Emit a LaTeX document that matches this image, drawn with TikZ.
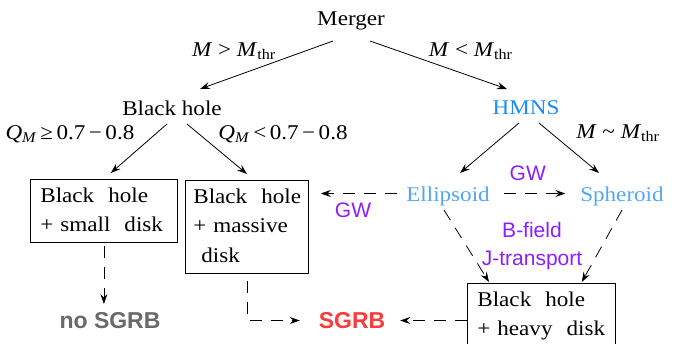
\documentclass[tikz,border=0pt]{standalone}
\usepackage{fontspec}
\setmainfont{Liberation Serif}[FakeStretch=1.1]
\setsansfont{Liberation Sans}
\usetikzlibrary{arrows.meta}
\definecolor{hmnsblue}{RGB}{26,140,255}
\definecolor{shapeblue}{RGB}{85,165,245}
\definecolor{gwpurple}{RGB}{140,30,255}
\definecolor{sgrbred}{RGB}{250,60,60}
\definecolor{nogray}{RGB}{105,105,105}
\newcommand\Mth{\textit{M}\textsubscript{thr}}
\newcommand\QM{\textit{Q}\textsubscript{\textit{M}}}

\begin{document}
\begin{tikzpicture}[x=1pt,y=-1pt,
   stage/.style={inner sep=0,outer sep=9pt,text height=15pt,text depth=0pt,
      anchor=base,font=\fontsize{21}{25}\selectfont},
   outcome/.style={draw,line width=0.8pt,anchor=north west,align=left,
      inner xsep=10pt,inner ysep=2pt,font=\fontsize{21}{29.5}\selectfont},
   grb/.style={stage,font=\fontsize{23}{27}\sffamily\bfseries},
   cond/.style={inner sep=1pt,font=\fontsize{21}{25}\selectfont},
   proc/.style={inner sep=1pt,text=gwpurple,font=\fontsize{21}{28}\sffamily},
   edge/.style={line width=0.8pt,-{Stealth[length=10pt,width=7pt,inset=3.5pt]}},
   weak edge/.style={edge,dash pattern=on 12pt off 9pt}]
\useasboundingbox (0,0) rectangle (684,343);

\node[stage] (merger) at (351,25) {Merger};
\node[stage] (bh) at (172,115) {Black hole};
\node[stage,text=hmnsblue] (hmns) at (526,114) {HMNS};
\node[stage,text=shapeblue] (ellipsoid) at (448,201) {Ellipsoid};
\node[stage,text=shapeblue] (spheroid) at (622,201) {Spheroid};
\node[outcome,text width=127pt] (smalldisk) at (30,179)
   {\strut Black~~hole\\+ small~~disk\strut};
\node[outcome,inner xsep=8pt,text width=107pt] (massivedisk) at (185,180)
   {\strut Black~~hole\\+ massive\\\hspace*{8pt}disk\strut};
\node[outcome,text width=128pt] (heavydisk) at (467,283)
   {\strut Black~~hole\\+ heavy~~disk\strut};
\node[grb,text=nogray] (nosgrb) at (110,328) {no SGRB};
\node[grb,text=sgrbred] (sgrb) at (352,328) {SGRB};
\node[proc,align=center] (bfield) at (532,246) {B-field\\J-transport};

\draw[edge] ([xshift=-18pt,yshift=-7pt]merger.south)
   -- node[cond,pos=0.42,anchor=south east] {\textit{M} > \Mth}
   ([xshift=28pt,yshift=2pt]bh.north);
\draw[edge] ([xshift=19pt,yshift=-7pt]merger.south)
   -- node[cond,pos=0.42,anchor=south west] {\textit{M} < \Mth}
   ([xshift=-19pt,yshift=1pt]hmns.north);
\draw[edge] ([xshift=-5pt]bh.south)
   -- node[cond,pos=0.2,anchor=east,xshift=-20pt] {\QM\,≥\,0.7\,−\,0.8}
   ([xshift=-67pt,yshift=6pt]smalldisk.north east);
\draw[edge] ([xshift=15pt]bh.south)
   -- node[cond,pos=0.2,anchor=west,xshift=18pt] {\QM\,<\,0.7\,−\,0.8}
   ([xshift=62pt,yshift=6pt]massivedisk.north west);
\draw[edge] ([xshift=-7pt]hmns.south) -- ([xshift=12pt,yshift=4pt]ellipsoid.north);
\draw[edge] ([xshift=13pt]hmns.south)
   -- node[cond,pos=0.2,anchor=west,xshift=24pt] {\textit{M} \textasciitilde\ \Mth}
   ([xshift=-23pt,yshift=4pt]spheroid.north);

\draw[weak edge,shorten >=12pt] (ellipsoid.west)
   -- node[proc,below=8pt] {GW} (ellipsoid.west -| massivedisk.east);
\draw[weak edge,shorten <=5pt,shorten >=6pt] (ellipsoid.east)
   -- node[proc,pos=0.4,above=11pt] {GW} (spheroid.west);
\draw[weak edge] ([xshift=-4pt]ellipsoid.south) -- ([xshift=22pt,yshift=1pt]heavydisk.north west);
\draw[weak edge] (spheroid.south) -- ([xshift=-34pt,yshift=1pt]heavydisk.north east);
\draw[weak edge,shorten <=3pt] (smalldisk.south) -- (smalldisk.south |- nosgrb.north);
\draw[weak edge,shorten >=10pt] ([yshift=-8pt]massivedisk.south) |- (sgrb.west);
\draw[weak edge,shorten >=6pt] (sgrb.east -| heavydisk.west) -- (sgrb.east);
\end{tikzpicture}
\end{document}
